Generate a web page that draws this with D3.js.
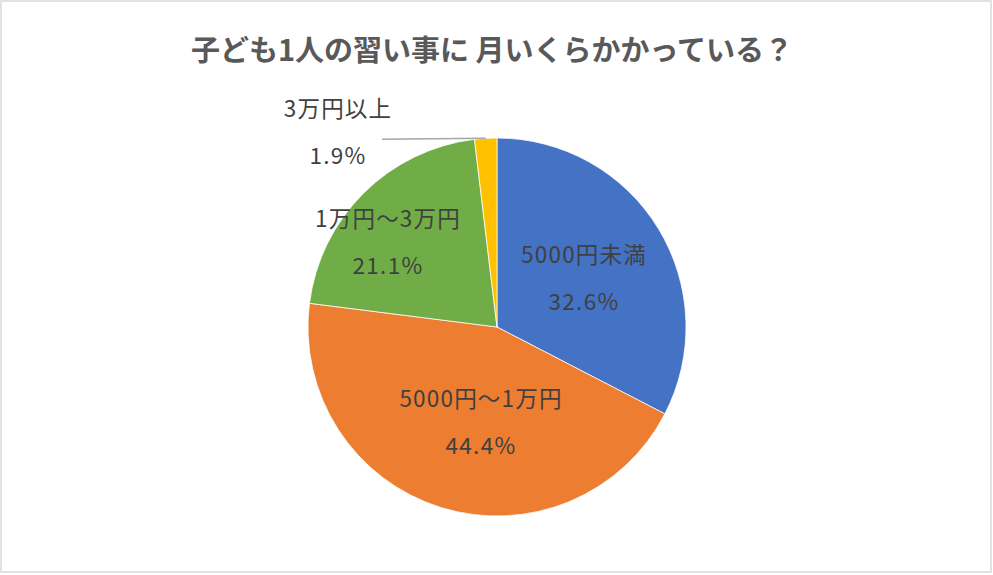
<!DOCTYPE html>
<html><head><meta charset="utf-8">
<script src="https://cdn.jsdelivr.net/npm/d3@7"></script>
<style>html,body{margin:0;padding:0;background:#fff;}</style>
</head><body>
<svg id="chart" width="993" height="575"></svg>
<script>
const categories = ["5000円未満", "5000円～1万円", "1万円～3万円", "3万円以上"];
const values = [32.6, 44.4, 21.1, 1.9];
const valueLabels = ["32.6%", "44.4%", "21.1%", "1.9%"];
const colors = ["#4472C4", "#ED7D31", "#70AD47", "#FFC000"];
const title = "子ども1人の習い事に 月いくらかかっている？";

const W = 993, H = 575;
const cx = 497, cy = 327, R = 189;
// label block offsets from pie centre (layout, not data)
const labelOffsets = [[87, -48], [-16, 96], [-109, -84], [-159, -194]];

const svg = d3.select("#chart");
svg.append("rect").attr("x", 1).attr("y", 1).attr("width", 990).attr("height", 571)
  .attr("fill", "#fff").attr("stroke", "#d9d9d9").attr("stroke-width", 1.5);

svg.append("text").attr("x", 492).attr("y", 48).attr("text-anchor", "middle")
  .attr("dominant-baseline", "central")
  .attr("font-family", "'Noto Sans CJK JP','Noto Sans',sans-serif")
  .attr("font-weight", "bold").attr("font-size", 29).attr("fill", "#595959")
  .text(title);

const data = categories.map((c, i) => ({ cat: c, value: values[i], label: valueLabels[i], color: colors[i], i }));
const pie = d3.pie().value(d => d.value).sort(null);
const arcs = pie(data);
const arc = d3.arc().innerRadius(0).outerRadius(R);

const g = svg.append("g").attr("transform", `translate(${cx},${cy})`);
g.selectAll("path").data(arcs).join("path")
  .attr("d", arc).attr("fill", d => d.data.color)
  .attr("stroke", "#fff").attr("stroke-width", 0.75);

// leader line for the small slice
const small = arcs[3];
const mid = (small.startAngle + small.endAngle) / 2;
const ex = R * Math.sin(mid), ey = -R * Math.cos(mid);
g.append("line").attr("x1", ex).attr("y1", ey).attr("x2", labelOffsets[3][0] + 44).attr("y2", ey + 1)
  .attr("stroke", "#a6a6a6").attr("stroke-width", 1.5);

const lab = g.selectAll("g.lab").data(arcs).join("g").attr("class", "lab")
  .attr("transform", d => `translate(${labelOffsets[d.index][0]},${labelOffsets[d.index][1]})`);
lab.append("text").attr("text-anchor", "middle").attr("dominant-baseline", "central")
  .attr("y", -26).attr("font-family", "'Noto Sans CJK JP','Noto Sans',sans-serif")
  .attr("font-size", 22.5).attr("letter-spacing", 1.2).attr("fill", "#404040").text(d => d.data.cat);
lab.append("text").attr("text-anchor", "middle").attr("dominant-baseline", "central")
  .attr("y", 21).attr("font-family", "'Noto Sans CJK JP','Noto Sans',sans-serif")
  .attr("font-size", 22.5).attr("letter-spacing", 1.3).attr("fill", "#404040").text(d => d.data.label);
</script>
</body></html>
